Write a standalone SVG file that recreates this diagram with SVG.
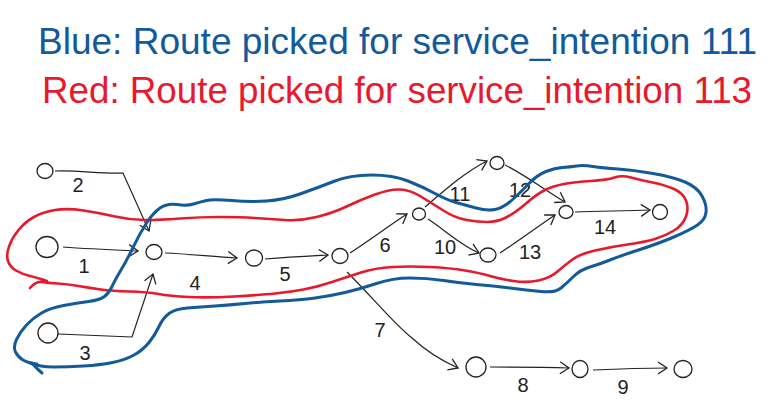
<svg xmlns="http://www.w3.org/2000/svg" width="775" height="409" viewBox="0 0 775 409">
<style>
.title{font-family:"Liberation Sans",Arial,sans-serif;font-size:37px}
.blue{fill:#135a9a}
.red{fill:#e8192c}
.lbl{font-family:"Liberation Sans",Arial,sans-serif;font-size:20px;fill:#222;text-anchor:middle}
.node{fill:#fff;stroke:#222;stroke-width:1.3}
.edge{fill:none;stroke:#222;stroke-width:1.2;marker-end:url(#arr)}
.loopB{fill:none;stroke:#135a9a;stroke-width:3;stroke-linecap:round;stroke-linejoin:round}
.loopR{fill:none;stroke:#e8192c;stroke-width:2.6;stroke-linecap:round;stroke-linejoin:round}
</style>
<defs>
<marker id="arr" viewBox="-12 -8 14 16" refX="0" refY="0" markerWidth="14" markerHeight="16" markerUnits="userSpaceOnUse" orient="auto">
<path d="M-9,-6 L0,0 L-9,6" fill="none" stroke="#222" stroke-width="1.3"/>
</marker>
</defs>
<rect width="775" height="409" fill="#fff"/>
<text class="title blue" x="38" y="54" textLength="719" lengthAdjust="spacingAndGlyphs">Blue: Route picked for service_intention 111</text>
<text class="title red" x="42" y="103" textLength="710" lengthAdjust="spacingAndGlyphs">Red: Route picked for service_intention 113</text>
<g id="connectors">
<path id="e2" class="edge" d="M55,171 C80,170 100,174 123,173 L149,231"/>
<path id="e1" class="edge" d="M63,247 C90,249 115,250 138,251"/>
<path id="e3" class="edge" d="M58,334 L132,337 L153,274"/>
<path id="e4" class="edge" d="M165,253 C190,254 215,257 237,258"/>
<path id="e5" class="edge" d="M265,259 C290,257 310,256 328,255"/>
<path id="e6" class="edge" d="M350,253 C370,240 390,225 407,214"/>
<path id="e11" class="edge" d="M425,207 C445,190 465,172 487,161"/>
<path id="e10" class="edge" d="M428,219 C445,230 460,245 479,253"/>
<path id="e7" class="edge" d="M347,272 C375,300 395,325 412,338 C425,350 440,360 458,368"/>
<path id="e8" class="edge" d="M490,367 C515,367 540,367 569,368"/>
<path id="e9" class="edge" d="M593,370 C615,369 640,368 667,368"/>
<path id="e12" class="edge" d="M505,165 C525,175 545,190 565,202"/>
<path id="e13" class="edge" d="M500,253 C520,240 540,225 555,215"/>
<path id="e14" class="edge" d="M575,212 C600,211 625,211 650,210"/>
</g>
<g id="labels">
<text class="lbl" x="84" y="273">1</text>
<text class="lbl" x="78" y="192">2</text>
<text class="lbl" x="85" y="360">3</text>
<text class="lbl" x="195" y="290">4</text>
<text class="lbl" x="285" y="281">5</text>
<text class="lbl" x="385" y="252">6</text>
<text class="lbl" x="380" y="337">7</text>
<text class="lbl" x="523" y="392">8</text>
<text class="lbl" x="623" y="394">9</text>
<text class="lbl" x="445" y="254">10</text>
<text class="lbl" x="460" y="201">11</text>
<text class="lbl" x="520" y="197">12</text>
<text class="lbl" x="530" y="259">13</text>
<text class="lbl" x="605" y="234">14</text>
</g>
<g id="nodeA"><ellipse class="node" cx="45" cy="171" rx="8" ry="7.5"/></g>
<g id="nodeB"><ellipse class="node" cx="47" cy="247" rx="11" ry="10.5"/></g>
<g id="nodeC"><ellipse class="node" cx="154" cy="252" rx="8" ry="7.5"/></g>
<g id="nodeD"><ellipse class="node" cx="254" cy="258" rx="8.5" ry="8"/></g>
<g id="nodeE"><ellipse class="node" cx="48" cy="333" rx="10" ry="10"/></g>
<g id="nodeF"><ellipse class="node" cx="340" cy="256" rx="8" ry="7.5"/></g>
<g id="nodeG"><ellipse class="node" cx="419" cy="214" rx="6.5" ry="6"/></g>
<g id="nodeH"><ellipse class="node" cx="497" cy="163" rx="7" ry="6.5"/></g>
<g id="nodeI"><ellipse class="node" cx="488" cy="255" rx="8" ry="7"/></g>
<g id="nodeM"><ellipse class="node" cx="566" cy="212" rx="7" ry="6.5"/></g>
<g id="nodeN"><ellipse class="node" cx="660" cy="212" rx="7.5" ry="7.5"/></g>
<g id="nodeJ"><ellipse class="node" cx="476" cy="367" rx="10" ry="10"/></g>
<g id="nodeK"><ellipse class="node" cx="580" cy="369" rx="8" ry="8.5"/></g>
<g id="nodeL"><ellipse class="node" cx="683" cy="369" rx="9" ry="8.5"/></g>
<g id="routes">
<path id="route113" class="loopR" d="M30,288 Q36,281 42,282 Q48,283 57.5,283.5 Q67,284 78.5,286 Q90,288 101,289.5 Q112,291 129.5,291.5 Q147,292 158.5,294 Q170,296 188.5,297 Q207,298 233.5,296.5 Q260,295 275,293.5 Q290,292 303.5,289.5 Q317,287 332,282 Q347,277 361,272.5 Q375,268 392.5,267 Q410,266 430,267 Q450,268 465,270.5 Q480,273 490,276 Q500,279 513.5,281 Q527,283 538.5,280.5 Q550,278 557.5,271.5 Q565,265 572.5,259.5 Q580,254 595,250.5 Q610,247 627.5,244.5 Q645,242 655,239 Q665,236 674,230.5 Q683,225 686,216.5 Q689,208 686,200.5 Q683,193 674,189 Q665,185 652.5,182.5 Q640,180 631,177.5 Q622,175 614.5,177.5 Q607,180 591,181 Q575,182 564,184 Q553,186 545,190 Q537,194 526,203.5 Q515,213 506,217.5 Q497,222 487.5,222 Q478,222 466.5,220 Q455,218 442.5,210 Q430,202 420,196 Q410,190 400,189.5 Q390,189 375,194.5 Q360,200 346.5,206.5 Q333,213 316.5,217 Q300,221 285,220 Q270,219 255,218 Q240,217 220,217 Q200,217 180,218.5 Q160,220 145,220 Q130,220 115,216.5 Q100,213 83.5,210.5 Q67,208 55,210 Q43,212 34,217 Q25,222 18.5,230 Q12,238 9,246.5 Q6,255 8,261 Q10,267 16,270.5 Q22,274 30,276 Q38,278 42.5,279.5 L47,281"/>
<path id="route111" class="loopB" d="M30,363 Q40,367 53.5,367 Q67,367 83.5,366 Q100,365 112.5,362.5 Q125,360 134,355 Q143,350 149,342.5 Q155,335 159,326.5 Q163,318 169,313.5 Q175,309 187.5,308 Q200,307 215,306 Q230,305 245,303.5 Q260,302 280,301 Q300,300 315,298 Q330,296 345,292.5 Q360,289 376.5,283.5 Q393,278 410,278 Q427,278 443.5,280.5 Q460,283 476.5,284.5 Q493,286 510,288 Q527,290 541,291.5 Q555,293 561,288 Q567,283 573.5,276.5 Q580,270 590,267 Q600,264 610,260 Q620,256 640,249.5 Q660,243 675,236.5 Q690,230 697.5,225 Q705,220 706,212.5 Q707,205 702,196 Q697,187 685,182 Q673,177 653,173.5 Q633,170 618,169 Q603,168 593,166.5 Q583,165 576.5,166 Q570,167 562.5,167.5 Q555,168 546,171.5 Q537,175 528.5,184 Q520,193 511.5,200.5 Q503,208 495,209.5 Q487,211 476,208 Q465,205 456,202.5 Q447,200 435,193.5 Q423,187 408,181 Q393,175 371.5,175 Q350,175 333.5,181.5 Q317,188 300,194 Q283,200 266.5,201 Q250,202 231.5,200.5 Q213,199 206.5,200.5 Q200,202 193.5,204 Q187,206 177,204.5 Q167,203 160,208 Q153,213 146.5,223 Q140,233 133.5,246.5 Q127,260 121,270 Q115,280 112,286.5 Q109,293 104.5,296.5 Q100,300 88.5,301.5 Q77,303 63.5,305.5 Q50,308 41.5,313 Q33,318 26.5,325 Q20,332 16.5,339.5 Q13,347 15.5,352 Q18,357 23,360 Q28,363 37,364"/>
<path class="loopB" d="M32,363 Q36,368 42,373"/>
</g>
</svg>
